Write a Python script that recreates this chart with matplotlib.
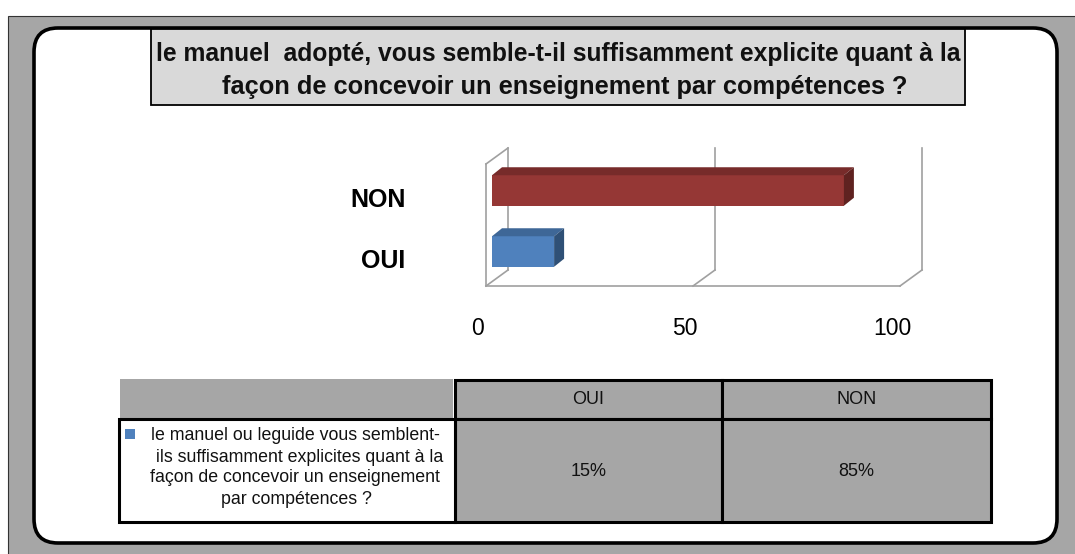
import matplotlib
matplotlib.use('Agg')
import matplotlib.pyplot as plt
from matplotlib.patches import Rectangle, FancyBboxPatch, Polygon
from matplotlib.lines import Line2D
from matplotlib.transforms import Affine2D, IdentityTransform
import numpy as np

# ---------------- data ----------------
categories = ['OUI', 'NON']
values = [15, 85]
x_ticks = [0, 50, 100]
title_lines = ["le manuel  adopté, vous semble-t-il suffisamment explicite quant à la",
               "façon de concevoir un enseignement par compétences ?"]
series_label_lines = ["le manuel ou leguide vous semblent-",
                      "ils suffisamment explicites quant à la",
                      "façon de concevoir un enseignement",
                      "par compétences ?"]
cell_labels = [f"{v}%" for v in values]

# ---------------- styles ----------------
plt.rcParams['font.family'] = ['Liberation Sans', 'DejaVu Sans']
GRAY = '#a6a6a6'
front_cols = ['#4f81bd', '#953735']
top_cols = ['#3e6797', '#772b2a']
side_cols = ['#2f5076', '#5f2220']
GRID = '#a0a0a0'

W, H = 1075, 554
fig = plt.figure(figsize=(W / 100, H / 100), dpi=100)
fig.patch.set_facecolor('white')

# background / decoration axes in pixel coordinates
bg = fig.add_axes([0, 0, 1, 1], zorder=0)
bg.set_xlim(0, W)
bg.set_ylim(H, 0)
bg.axis('off')

bg.add_patch(Rectangle((8, 16), W, H, facecolor=GRAY, edgecolor='#333333', lw=0.8))
bg.add_patch(FancyBboxPatch((34, 28), 1023, 515,
                            boxstyle="round,pad=0,rounding_size=24",
                            facecolor='white', edgecolor='black', lw=2.6))
# title box
bg.add_patch(Rectangle((151, 29), 814, 76, facecolor='#d9d9d9', edgecolor='black', lw=1.3))
bg.text(558, 54, title_lines[0], ha='center', va='center', fontsize=17.7,
        fontweight='bold', color='#111111')
bg.text(565, 87, title_lines[1], ha='center', va='center', fontsize=18.3,
        fontweight='bold', color='#111111')

# ---------------- data table ----------------
bl = 2.2
bg.add_patch(Rectangle((120, 379), 333, 40, facecolor=GRAY, edgecolor='none'))
col_x = [455, 722, 991]
for j in range(2):
    bg.add_patch(Rectangle((col_x[j], 380), col_x[j + 1] - col_x[j], 39,
                           facecolor=GRAY, edgecolor='black', lw=bl))
    bg.add_patch(Rectangle((col_x[j], 419), col_x[j + 1] - col_x[j], 103,
                           facecolor=GRAY, edgecolor='black', lw=bl))
    cx = (col_x[j] + col_x[j + 1]) / 2
    bg.text(cx, 400, categories[j], ha='center', va='center', fontsize=13, color='#111111')
    bg.text(cx, 471, cell_labels[j], ha='center', va='center', fontsize=13, color='#111111')
bg.add_patch(Rectangle((119, 419), 336, 103, facecolor='white', edgecolor='black', lw=bl))
bg.add_patch(Rectangle((125, 429), 10, 10, facecolor=front_cols[0], edgecolor='none'))
line_cx = [295, 300, 295, 296]
for k, (ln, cx) in enumerate(zip(series_label_lines, line_cx)):
    bg.text(cx, 436 + k * 21, ln, ha='center', va='center', fontsize=12.8, color='#111111')

# ---------------- 3D bar chart ----------------
x0px, x1px = 486, 900
ytop, ybot = 164, 286
ax = fig.add_axes([x0px / W, 1 - ybot / H, (x1px - x0px) / W, (ybot - ytop) / H], zorder=1)
ax.patch.set_visible(False)
for s in ax.spines.values():
    s.set_visible(False)
ax.set_xlim(0, 100)
ax.set_ylim(-0.5, 1.5)

back = np.array([22.0, 16.0])
front_off = np.array([6.0, 4.0])
depth = np.array([10.0, 8.0])
h = 0.5


def D(x, y, off=(0.0, 0.0)):
    return ax.transData.transform((x, y)) + np.asarray(off)


def dline(p, q, **kw):
    ln = Line2D([p[0], q[0]], [p[1], q[1]], transform=IdentityTransform(),
                clip_on=False, color=GRID, lw=1.2, zorder=1, **kw)
    ax.add_line(ln)


y0, y1 = ax.get_ylim()
# back wall verticals and floor diagonals
for xv in x_ticks:
    dline(D(xv, y0, back), D(xv, y1, back))
    dline(D(xv, y0), D(xv, y0, back))
# front floor edge
dline(D(x_ticks[0], y0), D(x_ticks[-1], y0))
# left wall
dline(D(0, y0), D(0, y1))
dline(D(0, y1), D(0, y1, back))

for i, v in enumerate(values):
    ax.barh(i, v, height=h, left=0, color=front_cols[i], zorder=3,
            transform=ax.transData + Affine2D().translate(*front_off))
    yt, yb = i + h / 2, i - h / 2
    top = [D(0, yt, front_off), D(v, yt, front_off), D(v, yt, front_off + depth), D(0, yt, front_off + depth)]
    side = [D(v, yb, front_off), D(v, yt, front_off), D(v, yt, front_off + depth), D(v, yb, front_off + depth)]
    ax.add_patch(Polygon(top, closed=True, transform=IdentityTransform(), clip_on=False,
                         facecolor=top_cols[i], edgecolor='none', zorder=3))
    ax.add_patch(Polygon(side, closed=True, transform=IdentityTransform(), clip_on=False,
                         facecolor=side_cols[i], edgecolor='none', zorder=3))

ax.set_xlim(0, 100)
ax.set_ylim(-0.5, 1.5)
ax.set_xticks(x_ticks)
ax.set_xticklabels([str(t) for t in x_ticks])
ax.tick_params(axis='x', length=0, pad=22, labelsize=16.5)
ax.set_yticks(range(len(categories)))
ax.set_yticklabels(categories, fontweight='bold')
ax.tick_params(axis='y', length=0, pad=58, labelsize=18)
for lab in ax.get_xticklabels():
    lab.set_transform(lab.get_transform() + Affine2D().translate(-8, 0))
for lab in ax.get_yticklabels():
    lab.set_transform(lab.get_transform() + Affine2D().translate(0, -3))

fig.savefig('out.png', dpi=100)
